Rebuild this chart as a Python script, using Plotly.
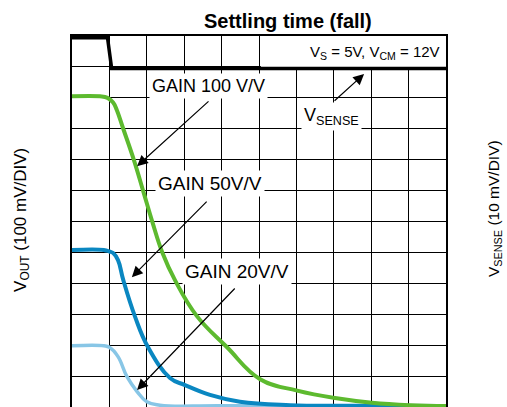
import plotly.graph_objects as go

# time axis in divisions (10 div), voltage axis in divisions (12 div)
vsense_t = [0, 0.95, 1.06, 10]
vsense_v = [11.94, 11.94, 10.95, 10.95]

gain100_t = [0, 0.75, 0.95, 1.1, 1.2, 1.37, 1.66, 1.91, 2.15, 2.42, 2.75, 3.34, 4.14, 5.03, 6.02, 7.03, 8.02, 9.04, 10]
gain100_v = [10.05, 10.05, 10.0, 9.85, 9.6, 9.0, 7.97, 6.96, 5.98, 4.98, 4.11, 2.94, 1.94, 0.9, 0.53, 0.29, 0.14, 0.06, 0.03]

gain50_t = [0, 0.85, 1.0, 1.1, 1.23, 1.37, 1.68, 2.03, 2.62, 3.02, 3.69, 4.49, 5.83, 7.5, 10]
gain50_v = [5.08, 5.08, 5.03, 4.98, 4.75, 4.11, 2.94, 1.94, 0.94, 0.71, 0.39, 0.17, 0.06, 0.04, 0.03]

gain20_t = [0, 0.85, 1.0, 1.23, 1.47, 1.74, 2.0, 2.35, 4.0, 10]
gain20_v = [1.98, 1.98, 1.93, 1.63, 0.98, 0.5, 0.17, 0.06, 0.04, 0.03]

FONT = "Liberation Sans, Arial, sans-serif"

fig = go.Figure()
fig.add_trace(go.Scatter(x=gain20_t, y=gain20_v, mode="lines",
                         line=dict(color="#88c6e6", width=3.5, shape="spline", smoothing=1.2)))
fig.add_trace(go.Scatter(x=gain50_t, y=gain50_v, mode="lines",
                         line=dict(color="#0a87c1", width=4, shape="spline", smoothing=1.2)))
fig.add_trace(go.Scatter(x=gain100_t, y=gain100_v, mode="lines",
                         line=dict(color="#5dba2f", width=4, shape="spline", smoothing=1.2)))
fig.add_trace(go.Scatter(x=vsense_t, y=vsense_v, mode="lines",
                         line=dict(color="black", width=3.5)))

# white panel behind the supply-condition note (hides grid in top row)
fig.add_shape(type="rect", x0=5.05, x1=10, y0=11.0, y1=12, xref="x", yref="y",
              fillcolor="white", line_width=0, layer="between")

labels = [
    ("GAIN 100 V/V", 3.66, 10.38, 18),
    ("GAIN 50V/V", 3.68, 7.24, 19),
    ("GAIN 20V/V", 4.4, 4.37, 19),
    ("V<sub>SENSE</sub>", 6.94, 9.41, 18),
]
for text, x, y, size in labels:
    fig.add_annotation(x=x, y=y, text=text, showarrow=False, bgcolor="white",
                       borderpad=2, font=dict(family=FONT, size=size, color="black"))

fig.add_annotation(x=8.09, y=11.48, text="V<sub>S</sub> = 5V, V<sub>CM</sub> = 12V",
                   showarrow=False, font=dict(family=FONT, size=15, color="black"))

# arrows: (tip x, tip y, tail x, tail y)
arrows = [
    (1.74, 7.79, 3.69, 9.93),
    (1.6, 4.2, 3.64, 6.69),
    (1.74, 0.55, 4.39, 3.88),
    (7.81, 10.77, 6.98, 9.86),
]
for x, y, ax, ay in arrows:
    fig.add_annotation(x=x, y=y, ax=ax, ay=ay, xref="x", yref="y", axref="x", ayref="y",
                       text="", showarrow=True, arrowhead=2, arrowsize=1.8,
                       arrowwidth=1.2, arrowcolor="black")

outer = [
    ("<b>Settling time (fall)</b>", 0.578, 1.04, 0, 20),
    ("V<sub>OUT</sub> (100 mV/DIV)", -0.134, 0.504, -90, 17),
    ("V<sub>SENSE</sub> (10 mV/DIV)", 1.128, 0.536, -90, 15.5),
]
for text, x, y, angle, size in outer:
    fig.add_annotation(xref="paper", yref="paper", x=x, y=y, xanchor="center", yanchor="middle",
                       textangle=angle, text=text, showarrow=False,
                       font=dict(family=FONT, size=size, color="black"))

axis_common = dict(showticklabels=False, ticks="", showgrid=True, gridcolor="black",
                   gridwidth=1, showline=True, linecolor="black", linewidth=2,
                   mirror=True, zeroline=False, dtick=1)
fig.update_xaxes(range=[0, 10], **axis_common)
fig.update_yaxes(range=[0, 12], **axis_common)

fig.update_layout(
    width=507, height=407,
    margin=dict(l=72, r=61, t=36, b=0, autoexpand=False),
    plot_bgcolor="white", paper_bgcolor="white",
    showlegend=False,
)

fig.write_html("out.html", config={"displayModeBar": False},
               post_script="document.body.style.margin='0';")
